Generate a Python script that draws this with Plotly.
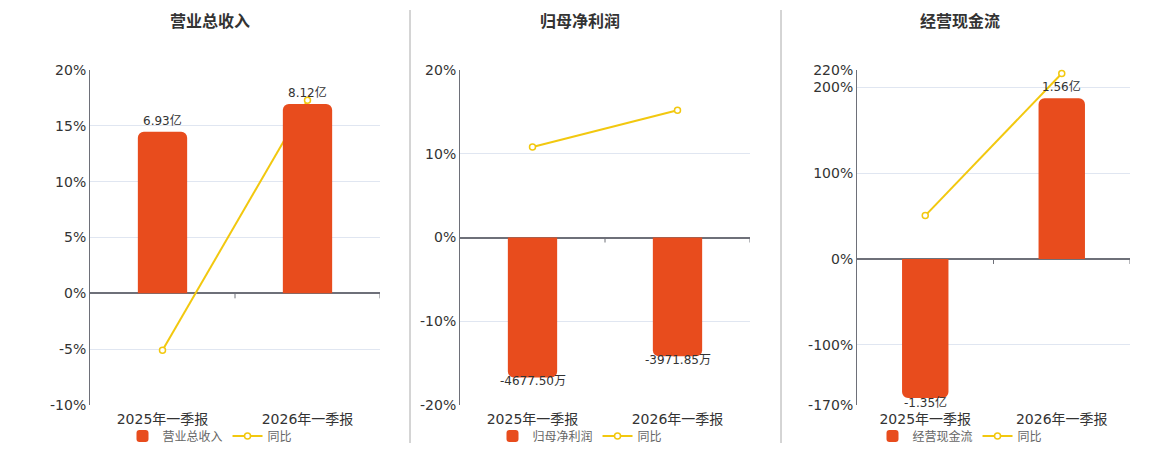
import plotly.graph_objects as go

W, H = 1160, 450
OFF = 8  # page body margin in the browser, compensated in pixel placement

categories = ["2025年一季报", "2026年一季报"]

titles = ["营业总收入", "归母净利润", "经营现金流"]

revenue = [6.93, 8.12]          # 亿
revenue_yoy = [-5.1, 17.3]      # %
profit = [-4677.50, -3971.85]   # 万
profit_yoy = [10.8, 15.2]       # %
cash = [-1.35, 1.56]            # 亿
cash_yoy = [50.5, 216.0]        # %

units = ["亿", "万", "亿"]

bar_values = [revenue, profit, cash]
yoy_values = [revenue_yoy, profit_yoy, cash_yoy]

pct_ranges = [[-10, 20], [-20, 20], [-170, 220]]
pct_ticks = [[-10, -5, 0, 5, 10, 15, 20], [-20, -10, 0, 10, 20], [-170, -100, 0, 100, 200, 220]]
bar_ranges = [[-4.788, 9.575], [-5600, 5600], [-1.418, 1.835]]

x_domains_px = [(90, 380), (460, 750), (857, 1130)]
title_x_px = [210, 580, 960]
legend_x_px = [210, 580, 960]

BAR_COLOR = "#E84C1D"
LINE_COLOR = "#F2C80F"
FONT = "DejaVu Sans, Noto Sans CJK SC, sans-serif"


def fx(px):
    return (px - OFF) / W


def fy(py):
    return 1 - (py - OFF) / H


ytop, ybot = 70, 405
y_domain = [fy(ybot), fy(ytop)]

fig = go.Figure()
layout = dict(
    width=W, height=H,
    margin=dict(l=0, r=0, t=0, b=0, autoexpand=False),
    paper_bgcolor="white", plot_bgcolor="white",
    font=dict(family=FONT, color="#333", size=14),
    barcornerradius=6,
    shapes=[], annotations=[],
)

for i in range(3):
    xa = "x" if i == 0 else f"x{i+1}"
    ya_pct = f"y{2*i+1}" if i > 0 else "y"
    ya_bar = f"y{2*i+2}"
    leg = "legend" if i == 0 else f"legend{i+1}"
    unit = units[i]

    fig.add_trace(go.Bar(
        x=categories, y=bar_values[i], xaxis=xa, yaxis=ya_bar,
        name=titles[i], marker=dict(color=BAR_COLOR, line=dict(width=0)),
        width=0.34, legend=leg, hoverinfo="skip",
    ))
    fig.add_trace(go.Scatter(
        x=categories, y=yoy_values[i], xaxis=xa, yaxis=ya_pct,
        name="同比", mode="lines+markers",
        line=dict(color=LINE_COLOR, width=2),
        marker=dict(symbol="circle", size=6, color="white",
                    line=dict(color=LINE_COLOR, width=1.5)),
        legend=leg, cliponaxis=False, hoverinfo="skip",
    ))

    # bar value labels anchored at the bar ends
    for c, v in zip(categories, bar_values[i]):
        pos = v >= 0
        layout["annotations"].append(dict(
            text=f"{v:.2f}{unit}", x=c, y=v, xref=xa, yref=ya_bar,
            xanchor="center", yanchor="bottom" if pos else "middle",
            yshift=2 if pos else -4, showarrow=False,
            font=dict(size=12, color="#333", family=FONT),
        ))

    x0, x1 = x_domains_px[i]
    xkey = "xaxis" if i == 0 else f"xaxis{i+1}"
    ypkey = "yaxis" if i == 0 else f"yaxis{2*i+1}"
    ybkey = f"yaxis{2*i+2}"
    layout[xkey] = dict(
        domain=[fx(x0), fx(x1)], anchor=ya_pct, type="category",
        range=[-0.5, 1.5], showgrid=False, showline=False, zeroline=False,
        ticks="", tickfont=dict(size=14, color="#333"), fixedrange=True,
        automargin=False, ticklabelstandoff=4,
    )
    layout[ypkey] = dict(
        domain=y_domain, anchor=xa, range=pct_ranges[i],
        tickvals=pct_ticks[i], ticktext=[f"{t}%" for t in pct_ticks[i]],
        showgrid=True, gridcolor="#E0E6F1", gridwidth=1,
        zeroline=True, zerolinecolor="#6E7079", zerolinewidth=2,
        showline=True, linecolor="#6E7079", linewidth=1,
        ticks="", tickfont=dict(size=14, color="#333"), fixedrange=True,
        automargin=False,
    )
    layout[ybkey] = dict(
        domain=y_domain, anchor=xa, overlaying=ya_pct, range=bar_ranges[i],
        visible=False, showgrid=False, zeroline=False, fixedrange=True,
        automargin=False,
    )
    layout[leg] = dict(
        orientation="h", x=fx(legend_x_px[i]), xanchor="center",
        y=fy(436), yanchor="middle",
        font=dict(size=12, color="#666", family=FONT),
        bgcolor="rgba(0,0,0,0)", itemwidth=30, tracegroupgap=0,
    )
    layout["annotations"].append(dict(
        text=f"<b>{titles[i]}</b>", x=fx(title_x_px[i]), y=fy(22),
        xref="paper", yref="paper", xanchor="center", yanchor="middle",
        showarrow=False, font=dict(size=16, color="#333", family=FONT),
    ))
    # category boundary ticks below the zero line
    for cx in [0.5, 1.5]:
        layout["shapes"].append(dict(
            type="line", xref=xa, yref=ya_pct, ysizemode="pixel", yanchor=0,
            x0=cx, x1=cx, y0=0, y1=-5,
            line=dict(color="#6E7079", width=1),
        ))

for xd in [410, 781]:
    layout["shapes"].append(dict(
        type="line", xref="paper", yref="paper",
        x0=fx(xd), x1=fx(xd), y0=fy(443), y1=fy(10),
        line=dict(color="#AAAAAA", width=1),
    ))

fig.update_layout(**layout)
fig.write_html("out.html")
